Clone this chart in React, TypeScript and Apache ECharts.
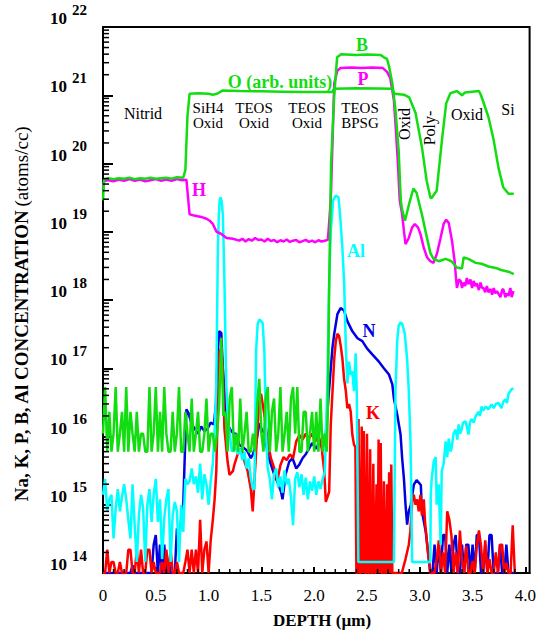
import React, { useEffect, useRef } from 'react';
import * as echarts from 'echarts';

// ---------- data (depth in µm, concentration in atoms/cc) ----------
const STEP = 0.02;

// B (green) noise floor in the oxide layers, sampled every STEP from 0
const boronFloor = [
  1.1e16, 5.3e16, 6e15, 2.3e16, 6e15, 1.1e16, 5.3e16, 6e15, 1.1e16, 2.3e16,
  6e15, 5.3e16, 6e15, 2.3e16, 1.1e16, 6e15, 2.3e16, 6e15, 1.1e16, 1.1e16,
  6e15, 6e15, 5.3e16, 6e15, 1.1e16, 5.3e16, 6e15, 2.3e16, 6e15, 5.3e16,
  1.1e16, 6e15, 6e15, 2.3e16, 6e15, 1.1e16, 5.3e16, 6e15, 6e15, 2.3e16,
  1.1e16, 6e15, 3.6e16, 6e15, 1.1e16, 2.3e16, 6e15, 6e15, 1.1e16, 3.6e16,
  6e15, 1.1e16, 1.1e16, 6e15, 1.1e16, 3e16, 2.8e17, 2e16, 2.3e16, 6e15,
  3.6e16, 5.3e16, 6e15, 1.1e16, 6e15, 3.6e16, 6e15, 1.1e16, 2.3e16, 6e15,
  6e15, 1.1e16, 6e15, 3e16, 7e16, 1.1e16, 6e15, 3.6e16, 5.3e16, 6e15,
  2.3e16, 3.6e16, 6e15, 1.1e16, 5.3e16, 6e15, 1.1e16, 2.3e16, 6e15, 3.6e16,
  5.3e16, 1.1e16, 5.3e16, 6e15, 6e15, 2.3e16, 2.3e16, 6e15, 1.1e16, 2.3e16,
  6e15, 2.3e16, 6e15, 3.6e16, 6e15, 1.1e16, 6e15,
];
const boronMain: [number, number][] = [
  [2.13, 3e16], [2.14, 1e18], [2.16, 1e20], [2.19, 1e21], [2.217, 3.6e21], [2.255, 4e21],
  [2.4, 3.9e21], [2.5, 3.95e21], [2.63, 3.9e21], [2.66, 3.6e21], [2.69, 3.4e21], [2.71, 2.6e21],
  [2.74, 1.5e21], [2.77, 6e20], [2.8, 1.55e20], [2.82, 2.9e19], [2.83, 2.2e19], [2.86, 1.45e19],
  [2.9, 2.6e19], [2.94, 4.3e19], [2.97, 3.7e19], [3.02, 1.8e19], [3.06, 9.3e18], [3.1, 4.9e18],
  [3.13, 4e18], [3.18, 3.7e18], [3.245, 4e18], [3.3, 3.7e18], [3.35, 3e18], [3.4, 2.9e18],
  [3.415, 4.2e18], [3.46, 4e18], [3.53, 3.5e18], [3.585, 3.4e18], [3.65, 3.1e18], [3.72, 2.95e18],
  [3.77, 2.75e18], [3.84, 2.6e18], [3.89, 2.4e18],
];

// O (green, arb. units)
const oxygen: [number, number][] = [
  [0, 2.9e19], [0.01, 5.9e19], [0.05, 6.1e19], [0.1, 5.9e19], [0.15, 6.1e19], [0.2, 6e19],
  [0.25, 6.2e19], [0.3, 5.9e19], [0.35, 6.1e19], [0.4, 6e19], [0.45, 6.2e19], [0.5, 6e19],
  [0.55, 6.1e19], [0.6, 6.2e19], [0.65, 6e19], [0.7, 6.3e19], [0.76, 6.2e19], [0.78, 8e19],
  [0.8, 5e20], [0.82, 1.05e21], [0.9, 1.07e21], [1.0, 1.05e21], [1.04, 1.02e21], [1.08, 1.05e21],
  [1.13, 1.17e21], [1.3, 1.15e21], [1.5, 1.14e21], [1.7, 1.13e21], [1.9, 1.12e21], [2.1, 1.12e21],
  [2.17, 1.12e21], [2.19, 1.25e21], [2.4, 1.27e21], [2.6, 1.26e21], [2.74, 1.24e21], [2.76, 1.05e21],
  [2.85, 1.02e21], [2.9, 9.3e20], [2.96, 5.5e20], [3.02, 1.75e20], [3.065, 5.6e19], [3.1, 3.2e19],
  [3.11, 3.1e19], [3.16, 4e19], [3.21, 2.2e20], [3.25, 7.6e20], [3.29, 1.07e21], [3.35, 1.15e21],
  [3.4, 1e21], [3.43, 1.1e21], [3.56, 1.15e21], [3.58, 1e21], [3.65, 4.8e20], [3.7, 2.2e20],
  [3.745, 8.7e19], [3.79, 4.5e19], [3.84, 3.6e19], [3.89, 3.6e19],
];

// H then P (magenta)
const hydrogen: [number, number][] = [
  [0, 4.2e19], [0.01, 5.5e19], [0.05, 5.7e19], [0.1, 5.5e19], [0.15, 5.8e19], [0.2, 5.6e19],
  [0.25, 5.9e19], [0.3, 5.6e19], [0.35, 5.8e19], [0.4, 5.5e19], [0.45, 5.7e19], [0.5, 5.9e19],
  [0.55, 5.6e19], [0.6, 5.8e19], [0.65, 5.6e19], [0.7, 5.9e19], [0.75, 5.7e19], [0.79, 5.8e19],
  [0.82, 1.8e19], [0.85, 1.75e19], [0.887, 1.7e19], [0.93, 1.65e19], [0.98, 1.55e19], [1.01, 1.45e19],
  [1.04, 1.3e19], [1.075, 1e19], [1.12, 9.3e18], [1.17, 8.1e18], [1.23, 7.9e18], [1.29, 7.4e18],
  [1.32, 7.9e18], [1.35, 7.2e18], [1.38, 7.8e18], [1.41, 7.4e18], [1.44, 8.1e18], [1.47, 7.6e18],
  [1.5, 7.7e18], [1.53, 7.2e18], [1.56, 7.9e18], [1.59, 7.3e18], [1.62, 7.6e18], [1.65, 7.0e18],
  [1.68, 7.5e18], [1.71, 7.2e18], [1.74, 7.7e18], [1.77, 7.1e18], [1.8, 7.4e18], [1.83, 7.6e18],
  [1.86, 7.0e18], [1.89, 7.3e18], [1.92, 7.6e18], [1.95, 7.1e18], [1.98, 7.4e18], [2.01, 7.0e18],
  [2.04, 7.5e18], [2.07, 7.2e18], [2.1, 7.4e18], [2.13, 7.6e18],
];
const phosphorus: [number, number][] = [
  [2.157, 2.9e19], [2.19, 1.5e21], [2.22, 2.3e21], [2.25, 2.5e21], [2.35, 2.55e21], [2.45, 2.5e21],
  [2.55, 2.55e21], [2.65, 2.5e21], [2.69, 2.2e21], [2.72, 1.8e21], [2.755, 8.5e20], [2.776, 2.75e20],
  [2.795, 8.7e19], [2.81, 2.9e19], [2.833, 1.8e19], [2.85, 1.02e19], [2.865, 6.6e18], [2.896, 8.1e18],
  [2.927, 1.15e19], [2.953, 1.3e19], [2.984, 1.15e19], [3.006, 9.3e18], [3.038, 5.8e18], [3.07, 4.2e18],
  [3.1, 3.7e18], [3.13, 3.5e18], [3.163, 4.8e18], [3.195, 7.9e18], [3.226, 1.3e19], [3.25, 1.5e19],
  [3.274, 1.35e19], [3.305, 7.4e18], [3.33, 3.7e18], [3.343, 2.1e18], [3.352, 1.5e18], [3.37, 2e18],
  [3.387, 1.9e18], [3.4, 1.5e18], [3.415, 1.8e18], [3.43, 1.6e18], [3.446, 2.1e18], [3.46, 1.7e18],
  [3.48, 2e18], [3.495, 1.5e18], [3.51, 1.9e18], [3.525, 1.6e18], [3.54, 1.75e18], [3.56, 1.4e18],
  [3.575, 1.8e18], [3.59, 1.5e18], [3.604, 1.5e18], [3.62, 1.3e18], [3.635, 1.6e18], [3.65, 1.3e18],
  [3.67, 1.45e18], [3.685, 1.2e18], [3.7, 1.5e18], [3.715, 1.25e18], [3.73, 1.35e18], [3.75, 1.2e18],
  [3.764, 1.1e18], [3.78, 1.4e18], [3.79, 1.45e18], [3.81, 1.1e18], [3.824, 1.25e18], [3.84, 1.15e18],
  [3.858, 1.5e18], [3.87, 1.1e18], [3.887, 1.35e18],
];

// Al (cyan)
const aluminiumFloor = [
  1.4e15, 2.4e15, 8e14, 1.2e15, 1.4e15, 3.2e14, 8.7e14, 1.7e15, 8e14, 1.3e15,
  2e15, 1.2e15, 6e14, 3.2e14, 2e15, 5e14, 1.45e14, 7e14, 1.4e15, 9e14,
  1.45e14, 1e15, 1.7e15, 5.6e14, 1.4e15, 2.4e15, 5.6e14, 1.2e15, 1.6e14, 6.3e14,
  1.2e15, 1.7e15, 1.45e14, 7e14, 1.1e15, 8e14, 1.45e14, 1e15, 4e14, 2.4e15,
  2e15, 2.2e15, 3.4e15, 2e15, 2.6e15, 1.5e15, 4e15, 1.2e15, 2.8e15, 2e15,
  1e15, 2.2e15,
];
const aluminiumPeaks: [number, number][] = [
  [1.04, 4e15], [1.06, 1.5e16], [1.073, 6e16], [1.088, 5.8e18], [1.097, 1.8e19], [1.105, 2.9e19],
  [1.113, 3.2e19], [1.122, 2.9e19], [1.135, 1.8e19], [1.15, 1.9e18], [1.167, 6e16], [1.18, 2e16],
  [1.2, 1.1e16], [1.22, 6e15], [1.24, 7e15], [1.26, 6.6e15], [1.28, 5.5e15], [1.3, 6.6e15],
  [1.32, 4.5e15], [1.34, 6e15], [1.36, 3.4e15], [1.38, 4.8e15], [1.4, 2.4e15], [1.42, 1.7e15],
  [1.434, 1.7e15], [1.45, 1.8e17], [1.465, 4.5e17], [1.481, 5.2e17], [1.497, 4.9e17], [1.512, 4.6e17],
  [1.528, 1.8e17], [1.544, 1.1e16], [1.56, 3.4e15],
];
const aluminiumMid = [
  2.4e15, 1.2e15, 2.8e15, 3.4e15, 1.8e15, 2.6e15, 1.5e15, 3.2e15, 2e15, 2.4e15,
  1.3e15, 5e14, 2.4e15, 3e15, 1.8e15, 2.8e15, 1.4e15, 2.5e15, 1.2e15, 2.2e15,
  1.6e15, 2.6e15, 1.4e15, 2.2e15, 1.7e15, 2.4e15,
];
const aluminiumMain: [number, number][] = [
  [2.1, 3e15], [2.125, 6.3e16], [2.142, 1.9e18], [2.157, 1e19], [2.18, 2.9e19], [2.205, 3.4e19],
  [2.23, 3.2e19], [2.245, 1.8e19], [2.267, 5.8e18], [2.283, 1.9e18], [2.3, 2e17], [2.314, 6e16],
  [2.33, 1.25e17], [2.346, 8e16], [2.361, 9e16], [2.377, 4.6e16], [2.393, 1.65e17], [2.403, 4.6e16],
  [2.408, 8.5e15], [2.418, 1.45e14], [2.755, 1.45e14], [2.761, 1.5e15], [2.77, 4.6e16], [2.786, 2.5e17],
  [2.8, 4.2e17], [2.818, 4.7e17], [2.833, 4.5e17], [2.858, 3.2e17], [2.88, 1.4e17], [2.896, 4.6e16],
  [2.912, 8.5e15], [2.92, 1.5e15], [2.927, 1.45e14], [3.1, 1.45e14],
  [3.104, 1.4e15], [3.113, 2.4e15], [3.132, 4.3e15], [3.151, 5e15], [3.16, 1e15], [3.179, 2e15],
  [3.198, 2.6e14], [3.208, 3.1e15], [3.226, 4e15], [3.245, 8.5e15], [3.26, 5e15], [3.274, 9.3e15],
  [3.29, 6e15], [3.3, 6.6e15], [3.32, 1.1e16], [3.34, 1.26e16], [3.355, 9e15], [3.368, 1.5e16],
  [3.38, 1.1e16], [3.396, 1.26e16], [3.41, 1.6e16], [3.434, 1.66e16], [3.462, 1.07e16], [3.475, 1.6e16],
  [3.49, 1.8e16], [3.51, 1.6e16], [3.53, 2e16], [3.557, 2.3e16], [3.57, 2e16], [3.585, 2.75e16],
  [3.6, 2.4e16], [3.623, 2.75e16], [3.65, 2.5e16], [3.68, 2.95e16], [3.7, 2.6e16], [3.72, 3e16],
  [3.745, 3.1e16], [3.774, 2.6e16], [3.79, 3.2e16], [3.81, 3.5e16], [3.826, 3.1e16], [3.84, 4.2e16],
  [3.868, 4.9e16], [3.887, 5.1e16],
];

// N (blue)
const nitrogenFloor = [
  1e14, 1e14, 1e14, 1e14, 1e14, 1e14, 1e14, 1e14, 1e14, 1e14,
  1e14, 1e14, 1e14, 1e14, 1.3e14, 1e14, 1e14, 1e14, 1e14, 1e14,
  1e14, 1e14, 1e14, 1e14, 2.6e14, 3.6e14, 1e14, 2.6e14, 1e14, 2.6e14,
  1e14, 1.6e14, 1e14, 1e14, 1e14, 4.5e14, 3.2e14, 6e14,
];
const nitrogenMain: [number, number][] = [
  [0.76, 1e15], [0.775, 5.5e15], [0.79, 2.5e16], [0.81, 2.2e16], [0.84, 1.5e16], [0.87, 1.3e16],
  [0.9, 1.1e16], [0.93, 1.4e16], [0.96, 1.2e16], [0.99, 1.3e16], [1.02, 1.6e16], [1.05, 1.5e16],
  [1.07, 3e16], [1.085, 1.5e17], [1.1, 3.5e17], [1.12, 3.3e17], [1.135, 1e17], [1.167, 2.3e16],
  [1.19, 1.4e16], [1.214, 1.2e16], [1.24, 1.1e16], [1.26, 1.1e16], [1.29, 7.6e15], [1.32, 7e15],
  [1.35, 6.5e15], [1.37, 6e15], [1.4, 4.8e15], [1.42, 5.5e15], [1.45, 8e15], [1.48, 1.55e16],
  [1.5, 1.3e16], [1.53, 1.1e16], [1.56, 5.5e15], [1.59, 3.9e15], [1.62, 2.8e15], [1.65, 2.2e15],
  [1.686, 1.55e15], [1.7, 1.2e15], [1.73, 2.8e15], [1.764, 4.3e15], [1.795, 4.8e15], [1.83, 3.4e15],
  [1.86, 3.9e15], [1.89, 4.8e15], [1.92, 5.5e15], [1.95, 6.6e15], [1.98, 8e15], [2.02, 6.6e15],
  [2.05, 8.5e15], [2.08, 6.6e15], [2.11, 1.1e16], [2.14, 4.6e16], [2.173, 2e17], [2.19, 3.2e17],
  [2.22, 6.2e17], [2.25, 7.6e17], [2.283, 7e17], [2.314, 4.9e17], [2.36, 3.5e17], [2.41, 2.75e17],
  [2.456, 2.5e17], [2.5, 1.95e17], [2.55, 1.6e17], [2.613, 1.25e17], [2.66, 1e17], [2.708, 8.1e16],
  [2.74, 5.8e16], [2.755, 3.6e16], [2.786, 2.1e16], [2.818, 1.07e16], [2.833, 4.8e15], [2.85, 2.4e15],
  [2.865, 1e15], [2.88, 5.1e14], [2.896, 8e14], [2.915, 1e15], [2.943, 1.95e15], [2.97, 2.3e15],
  [3.01, 1.95e15], [3.02, 8e14], [3.057, 4e14], [3.085, 1.6e14], [3.1, 1e14],
];
const nitrogenTail = [
  1e14, 2.6e14, 1e14, 2.6e14, 1e14, 3.6e14, 3.6e14, 1e14, 2.6e14, 1e14,
  2.6e14, 3.6e14, 1e14, 1e14, 2.6e14, 1e14, 2.6e14, 2.6e14, 1e14, 2.6e14,
  1e14, 3.6e14, 3.6e14, 1e14, 1e14, 2.6e14, 1e14, 3.6e14, 3.6e14, 1e14,
  1e14, 1e14, 2.6e14, 1e14, 1e14, 2.6e14, 1e14, 1e14, 1e14, 1e14,
];

// K (red)
const potassiumFloor = [
  1e14, 1e14, 2.2e14, 1e14, 1.45e14, 1.45e14, 1e14, 1e14, 1.45e14, 1e14,
  1e14, 1e14, 2.2e14, 2.2e14, 1e14, 1e14, 2.2e14, 1e14, 2.2e14, 1e14,
  1e14, 2.2e14, 2.2e14, 1e14, 1.45e14, 1e14, 1e14, 1e14, 1.45e14, 1e14,
  2.2e14, 1e14, 2.2e14, 1e14, 1e14, 1.45e14, 1e14, 1e14, 1e14, 1.45e14,
  2.2e14, 1e14, 2.2e14, 1e14, 2.2e14, 1e14, 6e14, 1e14, 2.2e14, 2.9e14,
  1e14,
];
const potassiumMain: [number, number][] = [
  [1.02, 3e14], [1.04, 6e14], [1.057, 1.2e15], [1.073, 3.1e15], [1.088, 3.2e16], [1.104, 1.8e17],
  [1.12, 1.95e17], [1.135, 1e17], [1.15, 1.3e16], [1.18, 4.3e15], [1.198, 2.75e15], [1.23, 3.1e15],
  [1.245, 3.9e15], [1.276, 5.5e15], [1.31, 6.6e15], [1.34, 4.3e15], [1.37, 3.1e15], [1.4, 1.7e15],
  [1.418, 8e14], [1.45, 6e15], [1.48, 3.6e16], [1.497, 4.2e16], [1.528, 2.1e16], [1.56, 8.5e15],
  [1.59, 4.8e15], [1.62, 3.5e15], [1.65, 2.2e15], [1.68, 3.8e15], [1.71, 5e15], [1.74, 4.5e15],
  [1.77, 5.5e15], [1.8, 4.8e15], [1.83, 8.5e15], [1.86, 1.05e16], [1.89, 9e15], [1.92, 1.1e16],
  [1.95, 9.3e15], [1.98, 1.1e16], [2.01, 8.5e15], [2.04, 1.05e16], [2.07, 7e15], [2.095, 3.1e15],
  [2.11, 1.1e15], [2.142, 1.55e15], [2.157, 1.5e16], [2.19, 1.4e17], [2.205, 2.5e17], [2.22, 3.2e17],
  [2.236, 2.95e17], [2.25, 2.2e17], [2.267, 1.4e17], [2.283, 7e16], [2.3, 4.6e16], [2.314, 2.6e16],
  [2.33, 3e16], [2.346, 2.3e16], [2.361, 1.07e16], [2.377, 7.6e15],
];
// sampled every 0.01 µm from 2.39
const potassiumSpikes = [
  7e15, 1e14, 1e14, 1.8e16, 1e14, 1e14, 1.4e16, 1e14, 1.2e16, 1e14,
  1e14, 1.1e16, 1e14, 1e14, 6.5e15, 1e14, 1e14, 4e15, 1e14, 1e14,
  2e15, 1e14, 9e15, 1e14, 8e15, 1e14, 1e14, 2.2e15, 1e14, 1e14,
  2e15, 1e14, 3e15, 1e14, 3.9e15, 1e14, 1e14,
];
const potassiumTail: [number, number][] = [
  [2.83, 1e14], [2.865, 1.6e14], [2.896, 2.6e14], [2.91, 4e14], [2.93, 1.2e15], [2.943, 1.4e15],
  [2.96, 1e15], [2.975, 1.2e15], [2.99, 8e14], [3.006, 1.4e15], [3.02, 7e14], [3.038, 1.2e15],
  [3.05, 5.5e14], [3.07, 2.6e14], [3.085, 1.6e14], [3.1, 1e14],
];
const potassiumRight = [
  1e14, 1e14, 1.6e14, 3e14, 1e14, 2e14, 1e14, 8e14, 6e14, 3.5e14,
  1e14, 2e14, 1e14, 4.2e14, 1.5e14, 1e14, 2.5e14, 1e14, 1e14, 1.5e14,
  1e14, 2.5e14, 4.2e14, 2.5e14, 1e14, 3e14, 1e14, 1.6e14, 1e14, 1e14,
  2e14, 1e14, 2.6e14, 2.6e14, 1e14, 1.4e14, 1e14, 1e14, 5e14, 1e14,
];

// axis ticks
const xMinorTicks = [
  0.1, 0.2, 0.3, 0.4, 0.6, 0.7, 0.8, 0.9, 1.1, 1.2, 1.3, 1.4, 1.6, 1.7, 1.8, 1.9,
  2.1, 2.2, 2.3, 2.4, 2.6, 2.7, 2.8, 2.9, 3.1, 3.2, 3.3, 3.4, 3.6, 3.7, 3.8, 3.9,
];
const decadeExponents = [14, 15, 16, 17, 18, 19, 20, 21];
const minorMantissas = [2, 3, 4, 5, 6, 7, 8, 9];

// ---------- helpers ----------
const sampled = (start: number, step: number, values: number[]): [number, number][] =>
  values.map((v, i) => [+(start + i * step).toFixed(3), v]);

const FONT = '"Liberation Serif", "Times New Roman", serif';
const GREEN = '#11dd11';
const MAGENTA = '#ff00ff';
const CYAN = '#00ffff';
const BLUE = '#0000e0';
const RED = '#ff0000';

const line = (name: string, color: string, data: [number, number][]) => ({
  name,
  type: 'line',
  data,
  showSymbol: false,
  symbol: 'none',
  lineStyle: { color, width: 2.5 },
  itemStyle: { color },
  silent: true,
  animation: false,
});

const txt = (text: string, x: number, y: number, opts: any = {}) => ({
  type: 'text',
  x,
  y,
  rotation: opts.rotation || 0,
  z: 100,
  silent: true,
  style: {
    text,
    fill: opts.color || '#000',
    fontFamily: FONT,
    fontSize: opts.size || 16,
    fontWeight: opts.bold ? 'bold' : 'normal',
    align: 'center',
    verticalAlign: 'middle',
  },
});

export default function App() {
  const ref = useRef<HTMLDivElement>(null);
  useEffect(() => {
    const chart = echarts.init(ref.current!, null, { renderer: 'svg' });

    const yMinor: [number, number][] = [];
    decadeExponents.forEach((e) => minorMantissas.forEach((m) => yMinor.push([0, m * Math.pow(10, e)])));

    const option: any = {
      animation: false,
      backgroundColor: '#fff',
      grid: { left: 103, right: 8, top: 27, bottom: 58, show: true, borderColor: '#000', borderWidth: 2, backgroundColor: 'transparent' },
      xAxis: {
        type: 'value',
        min: 0,
        max: 4.04,
        interval: 0.5,
        splitLine: { show: false },
        axisLine: { lineStyle: { color: '#000', width: 2 } },
        axisTick: { inside: true, length: 6, lineStyle: { color: '#000', width: 2 } },
        minorTick: { show: false },
        axisLabel: {
          showMaxLabel: false,
          margin: 14,
          color: '#000',
          fontFamily: FONT,
          fontSize: 17,
          formatter: (v: number) => (v === 0 ? '0' : v.toFixed(1)),
        },
      },
      yAxis: {
        type: 'log',
        logBase: 10,
        min: 1e14,
        max: 1e22,
        splitNumber: 8,
        splitLine: { show: false },
        axisLine: { lineStyle: { color: '#000', width: 2 } },
        axisTick: { inside: true, length: 10, lineStyle: { color: '#000', width: 2 } },
        minorTick: { show: false },
        axisLabel: {
          margin: 16,
          verticalAlign: 'bottom',
          formatter: (v: number) => `{b|10}{e|${Math.round(Math.log10(v))}}`,
          rich: {
            b: { fontFamily: FONT, fontSize: 17, fontWeight: 'bold', color: '#000', verticalAlign: 'bottom', padding: [0, 5, 0, 0] },
            e: { fontFamily: FONT, fontSize: 15, fontWeight: 'bold', color: '#000', verticalAlign: 'bottom', padding: [0, 0, 10, 0] },
          },
        },
      },
      series: [
        line('N', BLUE, [...sampled(0, STEP, nitrogenFloor), ...nitrogenMain, ...sampled(3.12, STEP, nitrogenTail)]),
        line('K', RED, [
          ...sampled(0, STEP, potassiumFloor),
          ...potassiumMain,
          ...sampled(2.39, 0.01, potassiumSpikes),
          ...potassiumTail,
          ...sampled(3.12, STEP, potassiumRight),
        ]),
        line('Al', CYAN, [
          ...sampled(0, STEP, aluminiumFloor),
          ...aluminiumPeaks,
          ...sampled(1.58, STEP, aluminiumMid),
          ...aluminiumMain,
        ]),
        line('H / P', MAGENTA, [...hydrogen, ...phosphorus]),
        line('B', GREEN, [...sampled(0, STEP, boronFloor), ...boronMain]),
        line('O', GREEN, oxygen),
        {
          type: 'custom',
          silent: true,
          z: 10,
          data: xMinorTicks.map((v) => [v, 1e14]),
          renderItem: (_p: any, api: any) => {
            const pt = api.coord([api.value(0), api.value(1)]);
            return { type: 'line', shape: { x1: pt[0], y1: pt[1], x2: pt[0], y2: pt[1] - 4 }, style: { stroke: '#000', lineWidth: 1.5 } };
          },
        },
        {
          type: 'custom',
          silent: true,
          z: 10,
          data: yMinor,
          renderItem: (_p: any, api: any) => {
            const pt = api.coord([api.value(0), api.value(1)]);
            return { type: 'line', shape: { x1: pt[0], y1: pt[1], x2: pt[0] + 6, y2: pt[1] }, style: { stroke: '#000', lineWidth: 1.5 } };
          },
        },
      ],
      graphic: [
        txt('Nitrid', 143, 113),
        txt('SiH4', 208, 108, { size: 15 }),
        txt('Oxid', 208, 123, { size: 15 }),
        txt('TEOS', 254, 108, { size: 15 }),
        txt('Oxid', 254, 123, { size: 15 }),
        txt('TEOS', 307, 108, { size: 15 }),
        txt('Oxid', 307, 123, { size: 15 }),
        txt('TEOS', 360, 108, { size: 15 }),
        txt('BPSG', 360, 123, { size: 15 }),
        txt('Oxid', 404, 124, { rotation: Math.PI / 2 }),
        txt('Poly-', 429, 128, { rotation: Math.PI / 2 }),
        txt('Oxid', 467, 114),
        txt('Si', 508, 109),
        txt('O (arb. units)', 280, 82, { bold: true, size: 18, color: GREEN }),
        txt('B', 362, 45, { bold: true, size: 18, color: GREEN }),
        txt('P', 363, 79, { bold: true, size: 18, color: MAGENTA }),
        txt('H', 199, 190, { bold: true, size: 18, color: MAGENTA }),
        txt('Al', 356, 251, { bold: true, size: 18, color: CYAN }),
        txt('N', 369, 331, { bold: true, size: 18, color: BLUE }),
        txt('K', 373, 413, { bold: true, size: 18, color: RED }),
        txt('DEPTH (µm)', 322, 620, { bold: true, size: 17 }),
        {
          type: 'text',
          x: 21,
          y: 314,
          rotation: Math.PI / 2,
          silent: true,
          style: {
            text: '{a|Na, K, P, B, Al CONCENTRATION} {c|(atoms/cc)}',
            align: 'center',
            verticalAlign: 'middle',
            rich: {
              a: { fontFamily: FONT, fontSize: 19, fontWeight: 'bold', fill: '#000' },
              c: { fontFamily: FONT, fontSize: 19, fontWeight: 'normal', fill: '#000' },
            },
          },
        },
      ],
    };
    chart.setOption(option);
    return () => chart.dispose();
  }, []);
  return <div ref={ref} style={{ position: 'fixed', left: 0, top: 0, width: 539, height: 631 }} />;
}
